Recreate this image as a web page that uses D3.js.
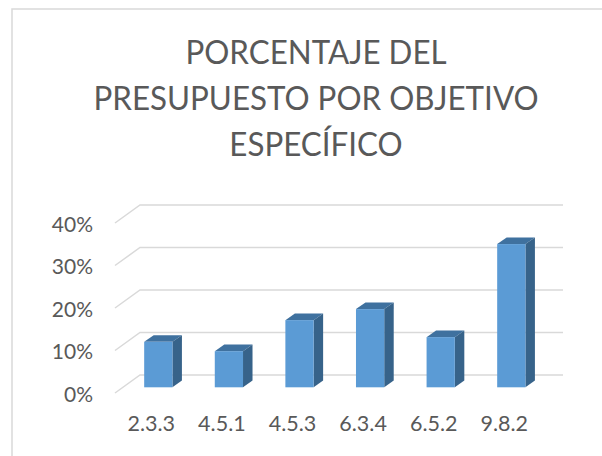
<!DOCTYPE html>
<html>
<head>
<meta charset="utf-8">
<script src="https://d3js.org/d3.v7.min.js"></script>
<style>
body { margin: 0; background: #fff; }
text { font-family: Lato, "Open Sans", sans-serif; fill: #595959; }
</style>
</head>
<body>
<div id="chart"></div>
<script>
var categories = ["2.3.3", "4.5.1", "4.5.3", "6.3.4", "6.5.2", "9.8.2"],
    values = [10.7, 8.5, 15.8, 18.4, 11.8, 33.7],
    ticks = [0, 10, 20, 30, 40],
    titleLines = ["PORCENTAJE DEL", "PRESUPUESTO POR OBJETIVO", "ESPECÍFICO"];

var width = 602, height = 456;

var svg = d3.select("#chart").append("svg").attr("width", width).attr("height", height);

// chart frame, open on the right and at the bottom like the crop
svg.append("path")
    .attr("d", "M602,9H12V456")
    .attr("fill", "none")
    .attr("stroke", "#d9d9d9")
    .attr("stroke-width", 1.5);

// Lato is wider than the original face, so squeeze the title a little
svg.selectAll(".title")
    .data(titleLines)
    .enter()
    .append("text")
    .attr("class", "title")
    .attr("transform", function(d, i) {
        return "translate(316," + (64 + i * 46) + ") scale(0.95,1)";
    })
    .attr("text-anchor", "middle")
    .attr("font-size", 33)
    .text(function(d) { return d; });

// 3D look: front plane, back wall and the bars halfway between them
var wallDx = 25, wallDy = -18, barDx = 9.5, barDy = -6.7;

var y = d3.scaleLinear().domain([0, 40]).range([393, 223]);
var yBar = d3.scaleLinear().domain([0, 40]).range([387.3, 217.3]);
var x = d3.scaleBand().domain(categories).range([123, 546.6]).paddingInner(0.6).paddingOuter(0.3);
var xLabel = d3.scaleBand().domain(categories).range([116, 539.6]);

var grid = svg.append("g");
grid.selectAll("path")
    .data(ticks)
    .enter()
    .append("path")
    .attr("fill", "none")
    .attr("stroke", "#d9d9d9")
    .attr("stroke-width", 1.5)
    .attr("d", function(d) {
        return "M115," + y(d) + "L" + (115 + wallDx) + "," + (y(d) + wallDy) + "H563";
    });

var yAxis = svg.append("g")
    .attr("transform", "translate(96,1.5)")
    .call(d3.axisLeft(y).tickValues(ticks).tickSize(0).tickFormat(function(d) { return d + "%"; }));
yAxis.select(".domain").remove();
yAxis.selectAll("text").attr("font-size", 21).attr("font-family", null).style("fill", "#595959");

var xAxis = svg.append("g")
    .attr("transform", "translate(0,431)")
    .call(d3.axisBottom(xLabel).tickSize(0));
xAxis.select(".domain").remove();
xAxis.selectAll("text").attr("font-size", 21.5).attr("dy", 0).attr("y", 0).style("fill", "#595959");

var bars = svg.selectAll(".bar")
    .data(values)
    .enter()
    .append("g")
    .attr("class", "bar");

function bx(i) { return x(categories[i]); }

bars.append("path")
    .attr("fill", "#3f719f")
    .attr("d", function(d, i) {
        var l = bx(i), r = l + x.bandwidth(), t = yBar(d);
        return "M" + l + "," + t + "L" + (l + barDx) + "," + (t + barDy) + "H" + (r + barDx) + "L" + r + "," + t + "Z";
    });

bars.append("path")
    .attr("fill", "#37638a")
    .attr("d", function(d, i) {
        var r = bx(i) + x.bandwidth(), t = yBar(d), b = yBar(0);
        return "M" + r + "," + t + "L" + (r + barDx) + "," + (t + barDy) + "V" + (b + barDy) + "L" + r + "," + b + "Z";
    });

bars.append("rect")
    .attr("fill", "#5b9bd5")
    .attr("x", function(d, i) { return bx(i); })
    .attr("y", function(d) { return yBar(d); })
    .attr("width", x.bandwidth())
    .attr("height", function(d) { return yBar(0) - yBar(d); });
</script>
</body>
</html>
